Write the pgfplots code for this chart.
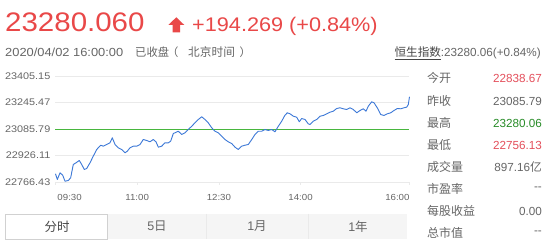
\documentclass[border=0pt]{standalone}
\usepackage{fontspec}
\usepackage{pgfplots}
\pgfplotsset{compat=1.18}
\setmainfont{Liberation Sans}
\newfontfamily\wide{Liberation Sans}[FakeStretch=1.1]
\newfontfamily\wider{Liberation Sans}[FakeStretch=1.13]
\newfontfamily\cjk{Noto Sans CJK SC}
\definecolor{redm}{RGB}{233,72,72}
\definecolor{redv}{RGB}{228,80,92}
\definecolor{greenv}{RGB}{40,140,40}
\definecolor{txtgray}{RGB}{102,102,102}
\definecolor{txtdark}{RGB}{70,70,70}
\definecolor{gridc}{RGB}{234,234,234}
\definecolor{tabbg}{RGB}{245,245,245}
\newcommand{\fs}[1]{\fontsize{#1}{#1}\selectfont}
\pgfplotstableread{
t v
0 22815.8
2 22781.5
5 22821.9
7.9 22807.4
10.5 22771.2
14.1 22775.5
16.7 22791.7
19.6 22871.9
22.6 22882.1
26.2 22896.0
28.9 22871.9
31.7 22841.7
34.4 22847.8
38 22882.1
41.6 22921.9
45.4 22962.3
49.8 22988.2
52.7 22982.2
56.4 22992.4
60 23002.6
62.6 23032.8
65.6 22992.4
69.2 22972.5
72.9 22962.3
76.6 22942.4
79.1 22952.0
82.1 22972.5
85.7 22982.2
89.5 22982.2
93.1 22992.4
96.7 23022.5
100.5 23016.5
104.1 23008.7
107.7 23022.5
110.7 23008.7
113.3 22976.1
117 22982.2
120.6 23002.6
124.3 23002.6
126.9 23012.3
129.8 23058.7
131.6 23062.9
135.3 23072.5
139 23052.7
142.7 23062.9
146.3 23082.8
150.1 23102.7
153.7 23123.2
157.3 23143.0
161.1 23159.3
164.7 23143.0
168.3 23123.2
172.1 23093.0
175.7 23072.5
179.4 23062.9
183.1 23042.4
186.7 23022.5
190.4 23008.7
194.1 22998.4
197.8 22976.1
201.4 22962.3
205.1 22982.2
208.8 22988.2
212.4 22992.4
216.2 23022.5
219.8 23052.7
223.4 23072.5
227.2 23072.5
230.8 23082.8
234.4 23076.8
238.2 23082.8
241.8 23068.9
245.5 23102.7
249.2 23132.8
252.8 23169.0
255.4 23183.4
258.4 23177.4
262 23162.9
265.7 23156.9
268.6 23129.2
271.2 23149.1
274.9 23143.0
278.5 23117.1
280.4 23112.9
284 23132.8
287.8 23143.0
291.4 23162.9
295 23167.2
298.8 23177.4
302.4 23187.0
306.1 23193.1
309.8 23209.3
313.4 23213.6
317.1 23207.5
320.8 23203.3
324.5 23213.6
328.1 23203.3
331.9 23183.4
335.5 23197.3
339.1 23207.5
342.1 23193.1
344.6 23223.2
348.4 23249.7
350.9 23243.7
354.5 23213.6
358.3 23173.2
361.9 23167.2
365.5 23177.4
369.3 23183.4
372.9 23197.3
376.6 23209.3
380.3 23207.5
383.9 23213.6
386.9 23217.2
388.7 23233.4
390 23280.06
}\hsi
\pgfplotstableread{
t v
0 23085.79
390 23085.79
}\prevclose
\begin{document}
\begin{tikzpicture}[x=1pt,y=1pt]
\path[use as bounding box, fill=white] (0,0) rectangle (549,-248);
% header
\node[anchor=base west, inner sep=0, text=redm] at (5,-32) {\wide\fs{26.8}23280.060};
\fill[redm] (168.3,-25) -- (176.3,-17.3) -- (184.3,-25) -- (180,-25) -- (180,-32.3) -- (172.7,-32.3) -- (172.7,-25) -- cycle;
\node[anchor=base west, inner sep=0, text=redm] at (192,-32) {\wide\fs{19.7}+194.269 (+0.84\%)};
\node[anchor=base west, inner sep=0, text=txtgray] at (5,-56.5) {\wide\fs{11.7}2020/04/02 16:00:00};
\node[anchor=base west, inner sep=0, text=txtgray] at (135,-56.5) {\cjk\fs{11.3}已收盘};
\node[anchor=base west, inner sep=0, text=txtgray] at (167,-56.5) {\cjk\fs{11.3}（};
\node[anchor=base west, inner sep=0, text=txtgray] at (188,-56.5) {\cjk\fs{11.7}北京时间};
\node[anchor=base west, inner sep=0, text=txtgray] at (239.5,-56.5) {\cjk\fs{11.3}）};
\node[anchor=base east, inner sep=0, text=txtgray] at (541,-56.5) {{\color{txtdark}\cjk\fs{11.6}\underline{恒生指数}}{\fs{11.7}:23280.06(+0.84\%)}};
% right panel
\foreach \lab/\val/\col/\yc in {今开/22838.67/redv/78, 昨收/23085.79/txtgray/101, 最高/23280.06/greenv/123, 最低/22756.13/redv/145, 成交量/897.16{\cjk 亿}/txtgray/167, 市盈率/-{}-/txtgray/189, 每股收益/0.00/txtgray/211, 总市值/-{}-/txtgray/233}{
  \node[anchor=west, inner sep=0, text=txtgray] at (427,-\yc) {\cjk\fs{12}\lab};
  \node[anchor=east, inner sep=0, text=\col] at (542,-\yc) {\fs{11.7}\val};
}
% tabs
\fill[tabbg] (107,-214) rectangle (407,-239);
\draw[gridc, line width=0.6pt] (206,-214) -- (206,-239);
\draw[gridc, line width=0.6pt] (308,-214) -- (308,-239);
\draw[black!18, fill=white, line width=0.7pt] (5,-214) rectangle (107,-239);
\node[text=txtdark, inner sep=0] at (57,-226.5) {\cjk\fs{12.5}分时};
\node[text=txtgray, inner sep=0] at (157,-226.5) {\fs{12.5}5{\cjk 日}};
\node[text=txtgray, inner sep=0] at (257,-226.5) {\fs{12.5}1{\cjk 月}};
\node[text=txtgray, inner sep=0] at (358,-226.5) {\fs{12.5}1{\cjk 年}};
% chart
\begin{axis}[at={(55.5pt,-182pt)}, anchor=south west, scale only axis,
  width=354pt, height=106pt,
  xmin=0, xmax=390, ymin=22766.43, ymax=23405.15,
  scaled y ticks=false, scaled x ticks=false,
  axis line style={draw=none},
  ytick={22766.43,22926.11,23085.79,23245.47,23405.15},
  yticklabels={22766.43,22926.11,23085.79,23245.47,23405.15},
  ymajorgrids, major grid style={draw=gridc, line width=0.6pt},
  xtick={0,90,180,270,390},
  xticklabels={\makebox[0pt][l]{\hspace{2pt}09:30},11:00,12:30,14:00,\makebox[0pt][r]{16:00}},
  xtick pos=lower, ytick pos=left, tick align=outside,
  major tick length=3pt,
  ytick style={draw=none},
  xtick style={draw=gridc, line width=0.6pt},
  yticklabel style={font=\wider\fs{9.6}, text=txtgray, inner sep=0pt, xshift=-2pt},
  xticklabel style={font=\wide\fs{8.8}, text=txtgray, inner sep=0pt, yshift=-9pt},
  clip=false]
\addplot[draw={rgb,255:red,72;green,182;blue,62}, line width=1.0pt, mark=none] table[x=t, y=v] {\prevclose};
\addplot[draw={rgb,255:red,60;green,120;blue,215}, line width=0.9pt, line join=round, mark=none] table[x=t, y=v] {\hsi};
\end{axis}
\end{tikzpicture}
\end{document}
